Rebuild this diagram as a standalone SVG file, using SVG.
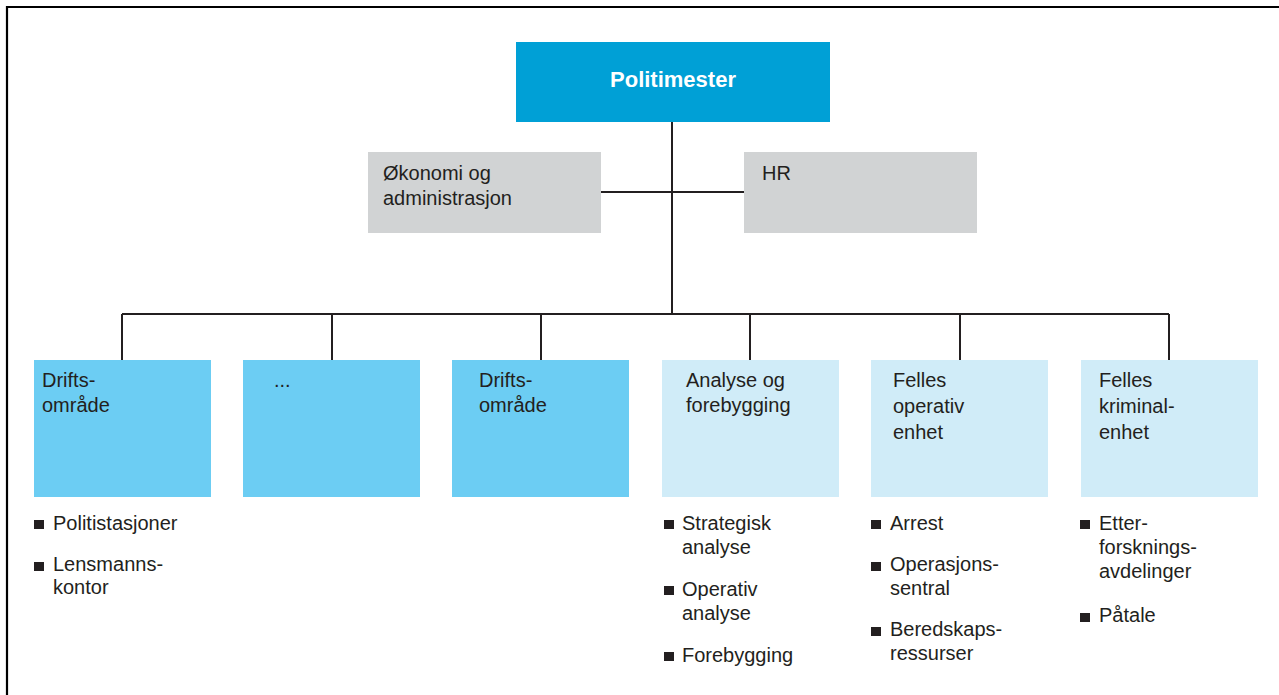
<svg xmlns="http://www.w3.org/2000/svg" width="1279" height="695" viewBox="0 0 1279 695">
<style>
.t{font-family:"Liberation Sans",Arial,sans-serif;font-size:20px;fill:#231F20}
.hd{font-family:"Liberation Sans",Arial,sans-serif;font-size:22px;font-weight:bold;fill:#FFFFFF}
.top{fill:#00A0D6}
.gray{fill:#D1D3D4}
.mid{fill:#6CCDF3}
.pale{fill:#D0ECF8}
.ln{stroke:#231F20;stroke-width:2;fill:none}
.b{fill:#231F20}
</style>
<g id="frame"><path d="M7 695 V7 H1279" stroke="#000" stroke-width="2.2" fill="none"/></g>
<g id="connectors">
<path class="ln" d="M672 122 V314"/>
<path class="ln" d="M601 192 H744"/>
<path class="ln" d="M122 314 H1169"/>
<path class="ln" d="M122 314 V360 M332 314 V360 M541 314 V360 M750 314 V360 M960 314 V360 M1169 314 V360"/>
</g>
<g id="politimester"><rect class="top" x="516" y="42" width="314" height="80"/><text class="hd" x="673" y="87" text-anchor="middle">Politimester</text></g>
<g id="okonomi"><rect class="gray" x="368" y="152" width="233" height="81"/><text class="t" x="383" y="180">Økonomi og</text><text class="t" x="383" y="205">administrasjon</text></g>
<g id="hr"><rect class="gray" x="744" y="152" width="233" height="81"/><text class="t" x="762" y="180">HR</text></g>
<g id="drift1"><rect class="mid" x="34" y="360" width="177" height="137"/><text class="t" x="42" y="387">Drifts-</text><text class="t" x="42" y="412">område</text></g>
<g id="dots"><rect class="mid" x="243" y="360" width="177" height="137"/><text class="t" x="274" y="387">...</text></g>
<g id="drift2"><rect class="mid" x="452" y="360" width="177" height="137"/><text class="t" x="479" y="387">Drifts-</text><text class="t" x="479" y="412">område</text></g>
<g id="analyse"><rect class="pale" x="662" y="360" width="177" height="137"/><text class="t" x="686" y="387">Analyse og</text><text class="t" x="686" y="412">forebygging</text></g>
<g id="operativ"><rect class="pale" x="871" y="360" width="177" height="137"/><text class="t" x="893" y="387">Felles</text><text class="t" x="893" y="413">operativ</text><text class="t" x="893" y="439">enhet</text></g>
<g id="kriminal"><rect class="pale" x="1081" y="360" width="177" height="137"/><text class="t" x="1099" y="387">Felles</text><text class="t" x="1099" y="413">kriminal-</text><text class="t" x="1099" y="439">enhet</text></g>
<g id="list1">
<rect class="b" x="34" y="520" width="10" height="9"/><text class="t" x="53" y="530">Politistasjoner</text>
<rect class="b" x="34" y="562" width="10" height="9"/><text class="t" x="53" y="571">Lensmanns-</text><text class="t" x="53" y="594">kontor</text>
</g>
<g id="list2">
<rect class="b" x="664" y="520" width="10" height="9"/><text class="t" x="682" y="530">Strategisk</text><text class="t" x="682" y="554">analyse</text>
<rect class="b" x="664" y="586" width="10" height="9"/><text class="t" x="682" y="596">Operativ</text><text class="t" x="682" y="620">analyse</text>
<rect class="b" x="664" y="652" width="10" height="9"/><text class="t" x="682" y="662">Forebygging</text>
</g>
<g id="list3">
<rect class="b" x="871" y="520" width="10" height="9"/><text class="t" x="890" y="530">Arrest</text>
<rect class="b" x="871" y="562" width="10" height="9"/><text class="t" x="890" y="571">Operasjons-</text><text class="t" x="890" y="595">sentral</text>
<rect class="b" x="871" y="627" width="10" height="9"/><text class="t" x="890" y="636">Beredskaps-</text><text class="t" x="890" y="660">ressurser</text>
</g>
<g id="list4">
<rect class="b" x="1080" y="520" width="10" height="9"/><text class="t" x="1099" y="530">Etter-</text><text class="t" x="1099" y="554">forsknings-</text><text class="t" x="1099" y="578">avdelinger</text>
<rect class="b" x="1080" y="613" width="10" height="9"/><text class="t" x="1099" y="622">Påtale</text>
</g>
</svg>
